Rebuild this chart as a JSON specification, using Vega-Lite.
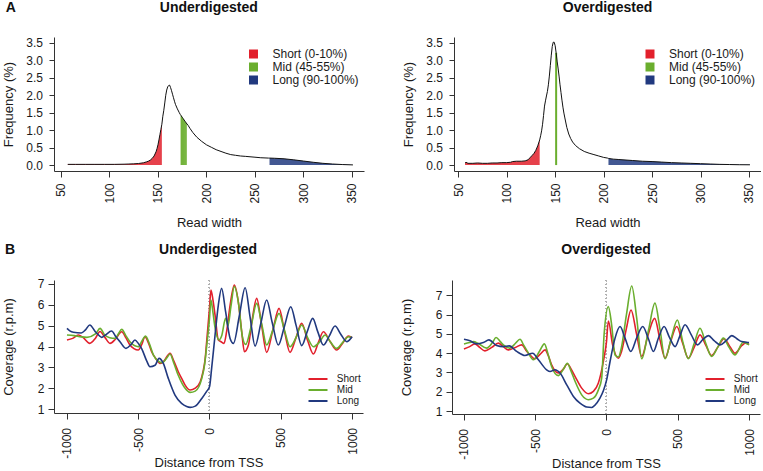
{
"$schema":"https://vega.github.io/schema/vega-lite/v6.json",
"padding":{"left":2,"top":0,"right":0,"bottom":0},
"autosize":{"type":"pad"},
"config":{"font":"Liberation Sans","view":{"stroke":null},
"axis":{"grid":false,"domainColor":"#333","tickColor":"#333","labelColor":"#1a1a1a","titleColor":"#1a1a1a","labelFontSize":12,"titleFontSize":13,"titleFontWeight":"normal","labelFlush":false,"labelOverlap":false,"domainWidth":1,"tickWidth":1},
"title":{"fontSize":14,"fontWeight":"bold","color":"#111","baseline":"alphabetic","font":"Liberation Sans"},
"legend":{"labelColor":"#1a1a1a"}},
"datasets":{
"tu":[
{"w":57,"f":0.02,"g":"Short (0-10%)"},{"w":65,"f":0.02,"g":"Short (0-10%)"},{"w":75,"f":0.02,"g":"Short (0-10%)"},{"w":85,"f":0.02,"g":"Short (0-10%)"},{"w":95,"f":0.02,"g":"Short (0-10%)"},{"w":105,"f":0.02,"g":"Short (0-10%)"},{"w":115,"f":0.025,"g":"Short (0-10%)"},{"w":120,"f":0.03,"g":"Short (0-10%)"},{"w":125,"f":0.035,"g":"Short (0-10%)"},{"w":130,"f":0.045,"g":"Short (0-10%)"},{"w":135,"f":0.065,"g":"Short (0-10%)"},{"w":138,"f":0.09,"g":"Short (0-10%)"},{"w":140,"f":0.11,"g":"Short (0-10%)"},{"w":142,"f":0.14,"g":"Short (0-10%)"},{"w":144,"f":0.19,"g":"Short (0-10%)"},{"w":146,"f":0.26,"g":"Short (0-10%)"},{"w":148,"f":0.38,"g":"Short (0-10%)"},{"w":149,"f":0.47,"g":"Short (0-10%)"},{"w":150,"f":0.58,"g":"Short (0-10%)"},{"w":151,"f":0.72,"g":"Short (0-10%)"},{"w":152,"f":0.87,"g":"Short (0-10%)"},{"w":153,"f":1.02,"g":"Short (0-10%)"},{"w":154,"f":1.17,"g":"Short (0-10%)"},
{"w":155,"f":1.4,"g":"none"},{"w":156,"f":1.57,"g":"none"},{"w":157,"f":1.78,"g":"none"},{"w":158,"f":2.0,"g":"none"},{"w":159,"f":2.15,"g":"none"},{"w":160,"f":2.24,"g":"none"},{"w":161,"f":2.28,"g":"none"},{"w":162,"f":2.29,"g":"none"},{"w":163,"f":2.22,"g":"none"},{"w":164,"f":2.13,"g":"none"},{"w":165,"f":2.03,"g":"none"},{"w":166,"f":1.93,"g":"none"},{"w":167,"f":1.83,"g":"none"},{"w":168,"f":1.74,"g":"none"},{"w":170,"f":1.61,"g":"none"},{"w":172,"f":1.5,"g":"none"},{"w":173,"f":1.45,"g":"none"},
{"w":174,"f":1.41,"g":"Mid (45-55%)"},{"w":175,"f":1.37,"g":"Mid (45-55%)"},{"w":176,"f":1.33,"g":"Mid (45-55%)"},{"w":177,"f":1.29,"g":"Mid (45-55%)"},{"w":178,"f":1.25,"g":"Mid (45-55%)"},{"w":179,"f":1.21,"g":"Mid (45-55%)"},
{"w":181,"f":1.14,"g":"none"},{"w":183,"f":1.05,"g":"none"},{"w":186,"f":0.93,"g":"none"},{"w":190,"f":0.8,"g":"none"},{"w":195,"f":0.68,"g":"none"},{"w":200,"f":0.58,"g":"none"},{"w":205,"f":0.51,"g":"none"},{"w":210,"f":0.44,"g":"none"},{"w":215,"f":0.39,"g":"none"},{"w":220,"f":0.34,"g":"none"},{"w":225,"f":0.3,"g":"none"},{"w":230,"f":0.28,"g":"none"},{"w":235,"f":0.26,"g":"none"},{"w":240,"f":0.25,"g":"none"},{"w":250,"f":0.225,"g":"none"},{"w":256,"f":0.21,"g":"none"},{"w":264,"f":0.2,"g":"none"},
{"w":265,"f":0.2,"g":"Long (90-100%)"},{"w":270,"f":0.195,"g":"Long (90-100%)"},{"w":280,"f":0.18,"g":"Long (90-100%)"},{"w":290,"f":0.15,"g":"Long (90-100%)"},{"w":300,"f":0.115,"g":"Long (90-100%)"},{"w":310,"f":0.08,"g":"Long (90-100%)"},{"w":320,"f":0.05,"g":"Long (90-100%)"},{"w":330,"f":0.03,"g":"Long (90-100%)"},{"w":340,"f":0.015,"g":"Long (90-100%)"},{"w":351,"f":0.005,"g":"Long (90-100%)"}
],
"to":[
{"w":57,"f":0.06,"g":"Short (0-10%)"},{"w":58,"f":0.08,"g":"Short (0-10%)"},{"w":60,"f":0.05,"g":"Short (0-10%)"},{"w":65,"f":0.05,"g":"Short (0-10%)"},{"w":70,"f":0.06,"g":"Short (0-10%)"},{"w":75,"f":0.05,"g":"Short (0-10%)"},{"w":80,"f":0.05,"g":"Short (0-10%)"},{"w":85,"f":0.06,"g":"Short (0-10%)"},{"w":90,"f":0.06,"g":"Short (0-10%)"},{"w":95,"f":0.07,"g":"Short (0-10%)"},{"w":100,"f":0.07,"g":"Short (0-10%)"},{"w":104,"f":0.08,"g":"Short (0-10%)"},{"w":106,"f":0.1,"g":"Short (0-10%)"},{"w":110,"f":0.11,"g":"Short (0-10%)"},{"w":115,"f":0.11,"g":"Short (0-10%)"},{"w":119,"f":0.12,"g":"Short (0-10%)"},{"w":122,"f":0.15,"g":"Short (0-10%)"},{"w":124,"f":0.21,"g":"Short (0-10%)"},{"w":126,"f":0.27,"g":"Short (0-10%)"},{"w":128,"f":0.33,"g":"Short (0-10%)"},{"w":130,"f":0.42,"g":"Short (0-10%)"},{"w":132,"f":0.55,"g":"Short (0-10%)"},{"w":134,"f":0.72,"g":"Short (0-10%)"},
{"w":135,"f":0.84,"g":"none"},{"w":136,"f":0.98,"g":"none"},{"w":137,"f":1.17,"g":"none"},{"w":138,"f":1.42,"g":"none"},{"w":139,"f":1.69,"g":"none"},{"w":140,"f":1.84,"g":"none"},{"w":141,"f":1.98,"g":"none"},{"w":142,"f":2.11,"g":"none"},{"w":143,"f":2.3,"g":"none"},{"w":144,"f":2.55,"g":"none"},{"w":145,"f":2.85,"g":"none"},{"w":146,"f":3.15,"g":"none"},{"w":147,"f":3.4,"g":"none"},{"w":148,"f":3.52,"g":"none"},{"w":149,"f":3.52,"g":"none"},{"w":150,"f":3.42,"g":"none"},
{"w":151,"f":3.22,"g":"Mid (45-55%)"},
{"w":152,"f":2.98,"g":"none"},{"w":153,"f":2.78,"g":"none"},{"w":154,"f":2.55,"g":"none"},{"w":155,"f":2.3,"g":"none"},{"w":156,"f":2.08,"g":"none"},{"w":157,"f":1.86,"g":"none"},{"w":158,"f":1.66,"g":"none"},{"w":159,"f":1.49,"g":"none"},{"w":160,"f":1.35,"g":"none"},{"w":162,"f":1.08,"g":"none"},{"w":164,"f":0.89,"g":"none"},{"w":166,"f":0.76,"g":"none"},{"w":168,"f":0.66,"g":"none"},{"w":171,"f":0.56,"g":"none"},{"w":175,"f":0.47,"g":"none"},{"w":180,"f":0.39,"g":"none"},{"w":185,"f":0.34,"g":"none"},{"w":190,"f":0.3,"g":"none"},{"w":195,"f":0.26,"g":"none"},{"w":200,"f":0.22,"g":"none"},{"w":204,"f":0.2,"g":"none"},
{"w":205,"f":0.19,"g":"Long (90-100%)"},{"w":210,"f":0.17,"g":"Long (90-100%)"},{"w":215,"f":0.16,"g":"Long (90-100%)"},{"w":220,"f":0.15,"g":"Long (90-100%)"},{"w":230,"f":0.13,"g":"Long (90-100%)"},{"w":240,"f":0.11,"g":"Long (90-100%)"},{"w":250,"f":0.1,"g":"Long (90-100%)"},{"w":260,"f":0.085,"g":"Long (90-100%)"},{"w":270,"f":0.07,"g":"Long (90-100%)"},{"w":280,"f":0.06,"g":"Long (90-100%)"},{"w":290,"f":0.05,"g":"Long (90-100%)"},{"w":300,"f":0.04,"g":"Long (90-100%)"},{"w":310,"f":0.03,"g":"Long (90-100%)"},{"w":320,"f":0.02,"g":"Long (90-100%)"},{"w":330,"f":0.015,"g":"Long (90-100%)"},{"w":340,"f":0.01,"g":"Long (90-100%)"},{"w":351,"f":0.008,"g":"Long (90-100%)"}
],
"bu":[
{"x":-1000,"v":4.31,"s":"Short"},{"x":-960,"v":4.39,"s":"Short"},{"x":-920,"v":4.55,"s":"Short"},{"x":-890,"v":4.45,"s":"Short"},{"x":-840,"v":4.15,"s":"Short"},{"x":-800,"v":4.4,"s":"Short"},{"x":-768,"v":4.72,"s":"Short"},{"x":-735,"v":4.45,"s":"Short"},{"x":-698,"v":4.15,"s":"Short"},{"x":-660,"v":4.35,"s":"Short"},{"x":-616,"v":4.71,"s":"Short"},{"x":-585,"v":4.4,"s":"Short"},{"x":-558,"v":4.07,"s":"Short"},{"x":-530,"v":3.9,"s":"Short"},{"x":-500,"v":3.83,"s":"Short"},{"x":-475,"v":4.1,"s":"Short"},{"x":-453,"v":4.47,"s":"Short"},{"x":-430,"v":4.2,"s":"Short"},{"x":-406,"v":3.75,"s":"Short"},{"x":-375,"v":3.4,"s":"Short"},{"x":-347,"v":3.19,"s":"Short"},{"x":-320,"v":3.3,"s":"Short"},{"x":-290,"v":3.6,"s":"Short"},{"x":-277,"v":3.67,"s":"Short"},{"x":-250,"v":3.3,"s":"Short"},{"x":-219,"v":2.79,"s":"Short"},{"x":-190,"v":2.4,"s":"Short"},{"x":-171,"v":2.15,"s":"Short"},{"x":-136,"v":1.91,"s":"Short"},{"x":-100,"v":2.0,"s":"Short"},{"x":-65,"v":2.31,"s":"Short"},{"x":-45,"v":2.8,"s":"Short"},{"x":-30,"v":3.43,"s":"Short"},{"x":-20,"v":4.23,"s":"Short"},{"x":0,"v":5.83,"s":"Short"},{"x":10,"v":6.71,"s":"Short"},{"x":25,"v":6.2,"s":"Short"},{"x":39,"v":5.5,"s":"Short"},{"x":62,"v":4.31,"s":"Short"},{"x":81,"v":4.23,"s":"Short"},{"x":102,"v":4.15,"s":"Short"},{"x":120,"v":4.71,"s":"Short"},{"x":145,"v":6.0,"s":"Short"},{"x":174,"v":6.95,"s":"Short"},{"x":202,"v":6.15,"s":"Short"},{"x":226,"v":4.71,"s":"Short"},{"x":245,"v":3.75,"s":"Short"},{"x":273,"v":4.07,"s":"Short"},{"x":300,"v":5.3,"s":"Short"},{"x":331,"v":6.31,"s":"Short"},{"x":366,"v":5.0,"s":"Short"},{"x":401,"v":3.72,"s":"Short"},{"x":445,"v":4.8,"s":"Short"},{"x":488,"v":5.83,"s":"Short"},{"x":527,"v":4.7,"s":"Short"},{"x":565,"v":3.72,"s":"Short"},{"x":606,"v":4.4,"s":"Short"},{"x":647,"v":5.11,"s":"Short"},{"x":688,"v":4.3,"s":"Short"},{"x":729,"v":3.64,"s":"Short"},{"x":764,"v":4.2,"s":"Short"},{"x":799,"v":4.71,"s":"Short"},{"x":845,"v":4.25,"s":"Short"},{"x":892,"v":3.83,"s":"Short"},{"x":933,"v":4.15,"s":"Short"},{"x":975,"v":4.5,"s":"Short"},{"x":1000,"v":4.42,"s":"Short"},
{"x":-1000,"v":4.55,"s":"Mid"},{"x":-950,"v":4.52,"s":"Mid"},{"x":-900,"v":4.46,"s":"Mid"},{"x":-860,"v":4.44,"s":"Mid"},{"x":-800,"v":4.6,"s":"Mid"},{"x":-768,"v":4.87,"s":"Mid"},{"x":-735,"v":4.55,"s":"Mid"},{"x":-700,"v":4.42,"s":"Mid"},{"x":-663,"v":4.39,"s":"Mid"},{"x":-640,"v":4.6,"s":"Mid"},{"x":-616,"v":4.82,"s":"Mid"},{"x":-585,"v":4.5,"s":"Mid"},{"x":-555,"v":4.2,"s":"Mid"},{"x":-500,"v":3.99,"s":"Mid"},{"x":-475,"v":4.25,"s":"Mid"},{"x":-449,"v":4.5,"s":"Mid"},{"x":-420,"v":4.1,"s":"Mid"},{"x":-394,"v":3.6,"s":"Mid"},{"x":-360,"v":3.3,"s":"Mid"},{"x":-331,"v":3.22,"s":"Mid"},{"x":-300,"v":3.45,"s":"Mid"},{"x":-277,"v":3.64,"s":"Mid"},{"x":-250,"v":3.2,"s":"Mid"},{"x":-220,"v":2.63,"s":"Mid"},{"x":-190,"v":2.2,"s":"Mid"},{"x":-171,"v":2.0,"s":"Mid"},{"x":-136,"v":1.8,"s":"Mid"},{"x":-100,"v":1.86,"s":"Mid"},{"x":-54,"v":2.47,"s":"Mid"},{"x":-35,"v":3.1,"s":"Mid"},{"x":-20,"v":4.0,"s":"Mid"},{"x":0,"v":5.35,"s":"Mid"},{"x":10,"v":6.23,"s":"Mid"},{"x":25,"v":5.6,"s":"Mid"},{"x":39,"v":4.9,"s":"Mid"},{"x":67,"v":4.31,"s":"Mid"},{"x":85,"v":4.5,"s":"Mid"},{"x":113,"v":5.35,"s":"Mid"},{"x":130,"v":5.0,"s":"Mid"},{"x":150,"v":5.9,"s":"Mid"},{"x":174,"v":6.87,"s":"Mid"},{"x":205,"v":6.0,"s":"Mid"},{"x":230,"v":4.5,"s":"Mid"},{"x":254,"v":4.1,"s":"Mid"},{"x":290,"v":4.9,"s":"Mid"},{"x":331,"v":6.07,"s":"Mid"},{"x":366,"v":5.1,"s":"Mid"},{"x":401,"v":4.07,"s":"Mid"},{"x":440,"v":4.7,"s":"Mid"},{"x":488,"v":5.59,"s":"Mid"},{"x":525,"v":4.8,"s":"Mid"},{"x":565,"v":3.99,"s":"Mid"},{"x":605,"v":4.4,"s":"Mid"},{"x":647,"v":5.03,"s":"Mid"},{"x":690,"v":4.4,"s":"Mid"},{"x":729,"v":3.99,"s":"Mid"},{"x":770,"v":4.2,"s":"Mid"},{"x":811,"v":4.55,"s":"Mid"},{"x":850,"v":4.2,"s":"Mid"},{"x":892,"v":3.91,"s":"Mid"},{"x":935,"v":4.2,"s":"Mid"},{"x":975,"v":4.47,"s":"Mid"},{"x":1000,"v":4.43,"s":"Mid"},
{"x":-1000,"v":4.87,"s":"Long"},{"x":-980,"v":4.75,"s":"Long"},{"x":-955,"v":4.68,"s":"Long"},{"x":-900,"v":4.65,"s":"Long"},{"x":-870,"v":4.8,"s":"Long"},{"x":-840,"v":5.03,"s":"Long"},{"x":-800,"v":4.7,"s":"Long"},{"x":-770,"v":4.5,"s":"Long"},{"x":-757,"v":4.44,"s":"Long"},{"x":-730,"v":4.55,"s":"Long"},{"x":-687,"v":4.74,"s":"Long"},{"x":-655,"v":4.45,"s":"Long"},{"x":-628,"v":4.23,"s":"Long"},{"x":-586,"v":3.91,"s":"Long"},{"x":-550,"v":4.1,"s":"Long"},{"x":-523,"v":4.31,"s":"Long"},{"x":-500,"v":4.15,"s":"Long"},{"x":-476,"v":3.9,"s":"Long"},{"x":-440,"v":3.3,"s":"Long"},{"x":-418,"v":3.03,"s":"Long"},{"x":-382,"v":3.1,"s":"Long"},{"x":-354,"v":3.43,"s":"Long"},{"x":-324,"v":3.19,"s":"Long"},{"x":-289,"v":2.47,"s":"Long"},{"x":-242,"v":1.67,"s":"Long"},{"x":-196,"v":1.27,"s":"Long"},{"x":-160,"v":1.12,"s":"Long"},{"x":-136,"v":1.08,"s":"Long"},{"x":-100,"v":1.14,"s":"Long"},{"x":-54,"v":1.51,"s":"Long"},{"x":-20,"v":1.85,"s":"Long"},{"x":0,"v":2.07,"s":"Long"},{"x":15,"v":2.95,"s":"Long"},{"x":39,"v":4.55,"s":"Long"},{"x":62,"v":5.99,"s":"Long"},{"x":85,"v":6.79,"s":"Long"},{"x":113,"v":5.67,"s":"Long"},{"x":144,"v":4.4,"s":"Long"},{"x":168,"v":4.15,"s":"Long"},{"x":210,"v":5.5,"s":"Long"},{"x":250,"v":6.82,"s":"Long"},{"x":285,"v":5.4,"s":"Long"},{"x":320,"v":4.02,"s":"Long"},{"x":360,"v":5.1,"s":"Long"},{"x":401,"v":6.23,"s":"Long"},{"x":440,"v":5.15,"s":"Long"},{"x":483,"v":4.07,"s":"Long"},{"x":527,"v":5.0,"s":"Long"},{"x":570,"v":5.91,"s":"Long"},{"x":608,"v":5.0,"s":"Long"},{"x":647,"v":4.04,"s":"Long"},{"x":685,"v":4.7,"s":"Long"},{"x":724,"v":5.35,"s":"Long"},{"x":760,"v":4.7,"s":"Long"},{"x":799,"v":4.07,"s":"Long"},{"x":840,"v":4.5,"s":"Long"},{"x":881,"v":4.98,"s":"Long"},{"x":920,"v":4.6,"s":"Long"},{"x":963,"v":4.23,"s":"Long"},{"x":1000,"v":4.47,"s":"Long"}
],
"bo":[
{"x":-1000,"v":4.22,"s":"Short"},{"x":-960,"v":4.34,"s":"Short"},{"x":-923,"v":4.48,"s":"Short"},{"x":-890,"v":4.3,"s":"Short"},{"x":-853,"v":4.12,"s":"Short"},{"x":-805,"v":4.3,"s":"Short"},{"x":-759,"v":4.52,"s":"Short"},{"x":-725,"v":4.35,"s":"Short"},{"x":-689,"v":4.17,"s":"Short"},{"x":-640,"v":4.3,"s":"Short"},{"x":-595,"v":4.43,"s":"Short"},{"x":-560,"v":4.1,"s":"Short"},{"x":-537,"v":3.91,"s":"Short"},{"x":-502,"v":3.71,"s":"Short"},{"x":-465,"v":3.95,"s":"Short"},{"x":-431,"v":4.17,"s":"Short"},{"x":-410,"v":3.9,"s":"Short"},{"x":-385,"v":3.4,"s":"Short"},{"x":-338,"v":2.97,"s":"Short"},{"x":-300,"v":3.2,"s":"Short"},{"x":-275,"v":3.45,"s":"Short"},{"x":-250,"v":3.2,"s":"Short"},{"x":-220,"v":2.79,"s":"Short"},{"x":-174,"v":2.19,"s":"Short"},{"x":-127,"v":1.9,"s":"Short"},{"x":-92,"v":2.02,"s":"Short"},{"x":-57,"v":2.45,"s":"Short"},{"x":-22,"v":3.57,"s":"Short"},{"x":0,"v":4.6,"s":"Short"},{"x":13,"v":5.67,"s":"Short"},{"x":43,"v":4.43,"s":"Short"},{"x":83,"v":3.74,"s":"Short"},{"x":106,"v":4.1,"s":"Short"},{"x":140,"v":5.3,"s":"Short"},{"x":172,"v":6.24,"s":"Short"},{"x":212,"v":4.95,"s":"Short"},{"x":247,"v":3.83,"s":"Short"},{"x":290,"v":4.9,"s":"Short"},{"x":338,"v":5.8,"s":"Short"},{"x":375,"v":4.7,"s":"Short"},{"x":411,"v":3.74,"s":"Short"},{"x":450,"v":4.6,"s":"Short"},{"x":493,"v":5.38,"s":"Short"},{"x":535,"v":4.5,"s":"Short"},{"x":574,"v":3.74,"s":"Short"},{"x":615,"v":4.3,"s":"Short"},{"x":656,"v":4.95,"s":"Short"},{"x":697,"v":4.4,"s":"Short"},{"x":738,"v":3.88,"s":"Short"},{"x":780,"v":4.3,"s":"Short"},{"x":825,"v":4.75,"s":"Short"},{"x":865,"v":4.35,"s":"Short"},{"x":902,"v":4.0,"s":"Short"},{"x":950,"v":4.4,"s":"Short"},{"x":975,"v":4.52,"s":"Short"},{"x":1000,"v":4.45,"s":"Short"},
{"x":-1000,"v":4.48,"s":"Mid"},{"x":-960,"v":4.55,"s":"Mid"},{"x":-934,"v":4.6,"s":"Mid"},{"x":-899,"v":4.5,"s":"Mid"},{"x":-841,"v":4.26,"s":"Mid"},{"x":-800,"v":4.55,"s":"Mid"},{"x":-775,"v":4.81,"s":"Mid"},{"x":-745,"v":4.6,"s":"Mid"},{"x":-724,"v":4.43,"s":"Mid"},{"x":-677,"v":4.26,"s":"Mid"},{"x":-640,"v":4.5,"s":"Mid"},{"x":-607,"v":4.72,"s":"Mid"},{"x":-580,"v":4.4,"s":"Mid"},{"x":-555,"v":4.09,"s":"Mid"},{"x":-513,"v":3.66,"s":"Mid"},{"x":-470,"v":4.1,"s":"Mid"},{"x":-436,"v":4.48,"s":"Mid"},{"x":-410,"v":3.95,"s":"Mid"},{"x":-385,"v":3.31,"s":"Mid"},{"x":-338,"v":2.84,"s":"Mid"},{"x":-300,"v":3.2,"s":"Mid"},{"x":-275,"v":3.48,"s":"Mid"},{"x":-250,"v":3.1,"s":"Mid"},{"x":-220,"v":2.53,"s":"Mid"},{"x":-174,"v":1.84,"s":"Mid"},{"x":-127,"v":1.59,"s":"Mid"},{"x":-92,"v":1.67,"s":"Mid"},{"x":-57,"v":2.1,"s":"Mid"},{"x":-34,"v":2.7,"s":"Mid"},{"x":-17,"v":4.95,"s":"Mid"},{"x":13,"v":6.41,"s":"Mid"},{"x":36,"v":5.47,"s":"Mid"},{"x":60,"v":3.91,"s":"Mid"},{"x":83,"v":3.8,"s":"Mid"},{"x":105,"v":4.3,"s":"Mid"},{"x":140,"v":6.0,"s":"Mid"},{"x":177,"v":7.48,"s":"Mid"},{"x":212,"v":5.81,"s":"Mid"},{"x":247,"v":3.71,"s":"Mid"},{"x":295,"v":5.2,"s":"Mid"},{"x":340,"v":6.59,"s":"Mid"},{"x":376,"v":5.2,"s":"Mid"},{"x":411,"v":3.71,"s":"Mid"},{"x":455,"v":4.8,"s":"Mid"},{"x":497,"v":5.72,"s":"Mid"},{"x":535,"v":4.6,"s":"Mid"},{"x":574,"v":3.71,"s":"Mid"},{"x":615,"v":4.5,"s":"Mid"},{"x":656,"v":5.29,"s":"Mid"},{"x":697,"v":4.5,"s":"Mid"},{"x":738,"v":3.83,"s":"Mid"},{"x":780,"v":4.3,"s":"Mid"},{"x":820,"v":4.78,"s":"Mid"},{"x":860,"v":4.3,"s":"Mid"},{"x":902,"v":3.91,"s":"Mid"},{"x":960,"v":4.57,"s":"Mid"},{"x":1000,"v":4.43,"s":"Mid"},
{"x":-1000,"v":4.72,"s":"Long"},{"x":-958,"v":4.64,"s":"Long"},{"x":-911,"v":4.48,"s":"Long"},{"x":-864,"v":4.55,"s":"Long"},{"x":-825,"v":4.69,"s":"Long"},{"x":-771,"v":4.4,"s":"Long"},{"x":-724,"v":4.34,"s":"Long"},{"x":-682,"v":4.38,"s":"Long"},{"x":-630,"v":4.09,"s":"Long"},{"x":-572,"v":3.88,"s":"Long"},{"x":-518,"v":4.0,"s":"Long"},{"x":-478,"v":3.66,"s":"Long"},{"x":-420,"v":3.14,"s":"Long"},{"x":-396,"v":3.05,"s":"Long"},{"x":-361,"v":3.14,"s":"Long"},{"x":-326,"v":2.97,"s":"Long"},{"x":-279,"v":2.36,"s":"Long"},{"x":-232,"v":1.76,"s":"Long"},{"x":-186,"v":1.41,"s":"Long"},{"x":-139,"v":1.21,"s":"Long"},{"x":-104,"v":1.19,"s":"Long"},{"x":-69,"v":1.41,"s":"Long"},{"x":-46,"v":1.67,"s":"Long"},{"x":-22,"v":2.05,"s":"Long"},{"x":1,"v":2.62,"s":"Long"},{"x":25,"v":3.57,"s":"Long"},{"x":60,"v":4.78,"s":"Long"},{"x":95,"v":5.38,"s":"Long"},{"x":130,"v":4.78,"s":"Long"},{"x":170,"v":4.09,"s":"Long"},{"x":212,"v":4.8,"s":"Long"},{"x":254,"v":5.38,"s":"Long"},{"x":294,"v":4.75,"s":"Long"},{"x":329,"v":4.09,"s":"Long"},{"x":365,"v":4.8,"s":"Long"},{"x":404,"v":5.38,"s":"Long"},{"x":440,"v":4.85,"s":"Long"},{"x":481,"v":4.34,"s":"Long"},{"x":515,"v":4.9,"s":"Long"},{"x":551,"v":5.47,"s":"Long"},{"x":595,"v":4.95,"s":"Long"},{"x":638,"v":4.43,"s":"Long"},{"x":675,"v":4.7,"s":"Long"},{"x":715,"v":4.91,"s":"Long"},{"x":755,"v":4.65,"s":"Long"},{"x":797,"v":4.43,"s":"Long"},{"x":840,"v":4.65,"s":"Long"},{"x":879,"v":4.91,"s":"Long"},{"x":915,"v":4.75,"s":"Long"},{"x":949,"v":4.6,"s":"Long"},{"x":984,"v":4.57,"s":"Long"},{"x":1000,"v":4.55,"s":"Long"}
]
},
"spacing":12,
"resolve":{"scale":{"color":"independent","x":"independent","y":"independent"},"legend":{"color":"independent"}},
"vconcat":[
{"spacing":38,
"resolve":{"scale":{"color":"independent","x":"independent","y":"independent"},"legend":{"color":"independent"}},
"hconcat":[
{"width":310,"height":134,"data":{"name":"tu"},
"title":{"text":"A\u00a0\u00a0\u00a0\u00a0\u00a0\u00a0\u00a0\u00a0\u00a0\u00a0\u00a0\u00a0\u00a0\u00a0\u00a0\u00a0\u00a0\u00a0\u00a0\u00a0\u00a0\u00a0\u00a0\u00a0\u00a0\u00a0\u00a0\u00a0\u00a0\u00a0\u00a0\u00a0\u00a0\u00a0\u00a0\u00a0\u00a0Underdigested","offset":22,"frame":"bounds","anchor":"start","dx":3},
"encoding":{"x":{"field":"w","type":"quantitative","scale":{"domain":[42.8,362.4],"nice":false,"zero":false},"axis":{"title":"Read width","values":[50,100,150,200,250,300,350],"format":"d","labelAngle":-90,"tickSize":6,"labelPadding":6,"titlePadding":13}},
"y":{"field":"f","type":"quantitative","stack":null,"scale":{"domain":[-0.17,3.67],"nice":false,"zero":false},"axis":{"title":"Frequency (%)","values":[0,0.5,1,1.5,2,2.5,3,3.5],"format":".1f","tickSize":5,"labelPadding":6.5,"titlePadding":10}}},
"layer":[
{"mark":{"type":"area","opacity":0.85},"transform":[{"filter":"datum.g === 'Short (0-10%)' || datum.g === 'Long (90-100%)'"}],
"encoding":{"y2":{"datum":0},
"color":{"field":"g","type":"nominal","scale":{"domain":["Short (0-10%)","Mid (45-55%)","Long (90-100%)"],"range":["#E2202C","#6AAE2E","#21397F"]},"legend":{"title":null,"orient":"none","legendX":193.5,"legendY":11,"symbolType":"square","symbolSize":56,"symbolOpacity":1,"labelFontSize":12,"labelOffset":13,"rowPadding":-1.2,"padding":0}}}},
{"mark":{"type":"rule","strokeWidth":1.3},"transform":[{"filter":"datum.g === 'Mid (45-55%)'"}],
"encoding":{"y2":{"datum":0},"color":{"field":"g","type":"nominal"}}},
{"mark":{"type":"line","color":"#111","strokeWidth":1}}
]},
{"width":307,"height":134,"data":{"name":"to"},
"title":{"text":"Overdigested","offset":22,"frame":"group"},
"encoding":{"x":{"field":"w","type":"quantitative","scale":{"domain":[45.6,362.4],"nice":false,"zero":false},"axis":{"title":"Read width","values":[50,100,150,200,250,300,350],"format":"d","labelAngle":-90,"tickSize":6,"labelPadding":6,"titlePadding":13}},
"y":{"field":"f","type":"quantitative","stack":null,"scale":{"domain":[-0.17,3.67],"nice":false,"zero":false},"axis":{"title":"Frequency (%)","values":[0,0.5,1,1.5,2,2.5,3,3.5],"format":".1f","tickSize":5,"labelPadding":6.5,"titlePadding":10}}},
"layer":[
{"mark":{"type":"area","opacity":0.85},"transform":[{"filter":"datum.g === 'Short (0-10%)' || datum.g === 'Long (90-100%)'"}],
"encoding":{"y2":{"datum":0},
"color":{"field":"g","type":"nominal","scale":{"domain":["Short (0-10%)","Mid (45-55%)","Long (90-100%)"],"range":["#E2202C","#6AAE2E","#21397F"]},"legend":{"title":null,"orient":"none","legendX":190,"legendY":11,"symbolType":"square","symbolSize":56,"symbolOpacity":1,"labelFontSize":12,"labelOffset":13,"rowPadding":-1.2,"padding":0}}}},
{"mark":{"type":"rule","strokeWidth":2},"transform":[{"filter":"datum.g === 'Mid (45-55%)'"}],
"encoding":{"y2":{"datum":0},"color":{"field":"g","type":"nominal"}}},
{"mark":{"type":"line","color":"#111","strokeWidth":1}}
]}
]},
{"spacing":37,
"resolve":{"scale":{"color":"independent","x":"independent","y":"independent"},"legend":{"color":"independent"}},
"hconcat":[
{"width":309,"height":133,"data":{"name":"bu"},
"title":{"text":"B\u00a0\u00a0\u00a0\u00a0\u00a0\u00a0\u00a0\u00a0\u00a0\u00a0\u00a0\u00a0\u00a0\u00a0\u00a0\u00a0\u00a0\u00a0\u00a0\u00a0\u00a0\u00a0\u00a0\u00a0\u00a0\u00a0\u00a0\u00a0\u00a0\u00a0\u00a0\u00a0\u00a0\u00a0\u00a0\u00a0\u00a0Underdigested","offset":21,"frame":"bounds","anchor":"start","dx":3},
"layer":[
{"mark":{"type":"rule","strokeDash":[1.5,2],"color":"#b5b5b5","strokeWidth":1},"encoding":{"x":{"datum":0,"type":"quantitative","axis":{"title":"Distance from TSS","values":[-1000,-500,0,500,1000],"labelExpr":"datum.value + ''","labelAngle":-90,"tickSize":6,"labelPadding":8.5,"titlePadding":-2}}}},
{"mark":{"type":"line","strokeWidth":1.6,"interpolate":"monotone"},
"encoding":{"x":{"field":"x","type":"quantitative","scale":{"domain":[-1091,1077],"nice":false,"zero":false},"axis":{"title":"Distance from TSS","values":[-1000,-500,0,500,1000],"labelExpr":"datum.value + ''","labelAngle":-90,"tickSize":6,"labelPadding":8.5,"titlePadding":-2}},
"y":{"field":"v","type":"quantitative","scale":{"domain":[0.81,7.19],"nice":false,"zero":false},"axis":{"title":"Coverage (r.p.m)","values":[1,2,3,4,5,6,7],"format":"d","tickSize":6,"labelPadding":4,"titlePadding":22.3}},
"color":{"field":"s","type":"nominal","scale":{"domain":["Short","Mid","Long"],"range":["#E2202C","#6AAE2E","#21397F"]},"legend":{"title":null,"orient":"none","legendX":258,"legendY":93,"symbolType":"M-1.9,0H1.9","symbolSize":100,"symbolStrokeWidth":2,"labelFontSize":10,"labelOffset":12.8,"rowPadding":0,"padding":0}}}}
]},
{"width":308,"height":134,"data":{"name":"bo"},
"title":{"text":"Overdigested","offset":23,"frame":"group"},
"layer":[
{"mark":{"type":"rule","strokeDash":[1.5,2],"color":"#b5b5b5","strokeWidth":1},"encoding":{"x":{"datum":0,"type":"quantitative","axis":{"title":"Distance from TSS","values":[-1000,-500,0,500,1000],"labelExpr":"datum.value + ''","labelAngle":-90,"tickSize":6,"labelPadding":8.5,"titlePadding":-2}}}},
{"mark":{"type":"line","strokeWidth":1.6,"interpolate":"monotone"},
"encoding":{"x":{"field":"x","type":"quantitative","scale":{"domain":[-1084,1077],"nice":false,"zero":false},"axis":{"title":"Distance from TSS","values":[-1000,-500,0,500,1000],"labelExpr":"datum.value + ''","labelAngle":-90,"tickSize":6,"labelPadding":8.5,"titlePadding":-2}},
"y":{"field":"v","type":"quantitative","scale":{"domain":[0.85,7.79],"nice":false,"zero":false},"axis":{"title":"Coverage (r.p.m)","values":[1,2,3,4,5,6,7],"format":"d","tickSize":6,"labelPadding":4,"titlePadding":22.3}},
"color":{"field":"s","type":"nominal","scale":{"domain":["Short","Mid","Long"],"range":["#E2202C","#6AAE2E","#21397F"]},"legend":{"title":null,"orient":"none","legendX":257,"legendY":93,"symbolType":"M-1.9,0H1.9","symbolSize":100,"symbolStrokeWidth":2,"labelFontSize":10,"labelOffset":12.8,"rowPadding":0,"padding":0}}}}
]}
]}
]
}
